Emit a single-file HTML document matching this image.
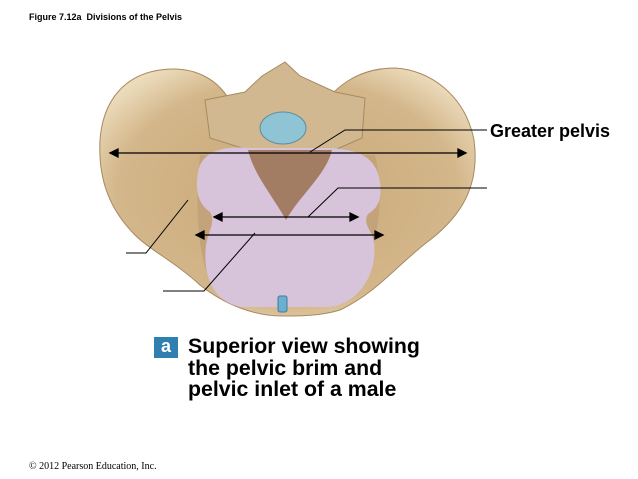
<!DOCTYPE html>
<html><head><style>
body{margin:0;background:#fff;width:638px;height:479px;overflow:hidden;position:relative;font-family:"Liberation Sans",Arial,sans-serif}
.t{position:absolute}
</style></head><body>
<div class="t" style="left:29px;top:12px;font-size:9px;font-weight:bold">Figure 7.12a&nbsp; Divisions of the Pelvis</div>
<svg width="638" height="479" style="position:absolute;left:0;top:0">
<defs>
<radialGradient id="bone" cx="50%" cy="50%" r="60%"><stop offset="0" stop-color="#c9a878"/><stop offset="0.75" stop-color="#d3b68a"/><stop offset="1" stop-color="#ecdcbc"/></radialGradient>
</defs>
<path d="M282,316 C255,316 225,305 200,285 C175,262 150,250 135,235 C110,210 98,180 100,140 C103,100 125,75 160,70 C195,65 220,80 232,105 L250,110 L320,110 C335,85 360,68 395,68 C430,70 465,95 474,140 C480,185 462,215 430,240 C400,262 378,292 340,310 C320,316 300,316 282,316 Z" fill="url(#bone)" stroke="#a88860" stroke-width="1"/>
<path d="M200,155 C195,200 196,260 215,290 C240,312 320,312 350,292 C378,260 386,200 375,155 Z" fill="#c4a37a"/>
<path d="M205,100 L245,92 L262,76 L285,62 L300,76 L335,92 L365,98 L362,138 L330,152 L255,152 L210,138 Z" fill="#d2b890" stroke="#a88a60"/>
<path d="M198,172 C202,150 225,146 250,148 L320,148 C350,148 376,152 380,182 C382,200 378,208 368,214 C362,224 372,230 374,242 C378,272 360,303 330,307 L240,307 C210,300 203,272 206,245 C208,232 216,222 210,212 C198,204 195,190 198,172 Z" fill="#d7c3da"/>
<path d="M248,150 L332,150 C326,175 300,195 286,220 C272,195 254,175 248,150 Z" fill="#a37c64"/>
<ellipse cx="283" cy="128" rx="23" ry="16" fill="#8fc4d4" stroke="#5c8fa3"/>
<rect x="278" y="296" width="9" height="16" rx="2" fill="#6aaed0" stroke="#3d7d9a"/>
<g stroke="#000" stroke-width="1.3" fill="#000">
<line x1="116" y1="153" x2="460" y2="153"/><path d="M110,153 l8,-4 v8z"/><path d="M466,153 l-8,-4 v8z"/>
<line x1="220" y1="217" x2="352" y2="217"/><path d="M214,217 l8,-4 v8z"/><path d="M358,217 l-8,-4 v8z"/>
<line x1="202" y1="235" x2="377" y2="235"/><path d="M196,235 l8,-4 v8z"/><path d="M383,235 l-8,-4 v8z"/>
</g>
<g stroke="#000" stroke-width="1" fill="none">
<polyline points="310,152 345,130 487,130"/>
<polyline points="308,217 338,188 487,188"/>
<polyline points="126,253 146,253 188,200"/>
<polyline points="163,291 204,291 255,233"/>
</g>
</svg>
<div class="t" style="left:490px;top:121px;font-size:18px;font-weight:bold">Greater pelvis</div>
<div class="t" style="left:154px;top:337px;width:24px;height:21px;background:#2f7fb0;color:#fff;font-weight:bold;font-size:18px;text-align:center;line-height:19px">a</div>
<div class="t" style="left:188px;top:336px;font-size:21.3px;font-weight:bold;line-height:21.5px">Superior view showing<br>the pelvic brim and<br>pelvic inlet of a male</div>
<div class="t" style="left:29px;top:461px;font-size:10px;font-family:'Liberation Serif',serif">© 2012 Pearson Education, Inc.</div>
</body></html>
